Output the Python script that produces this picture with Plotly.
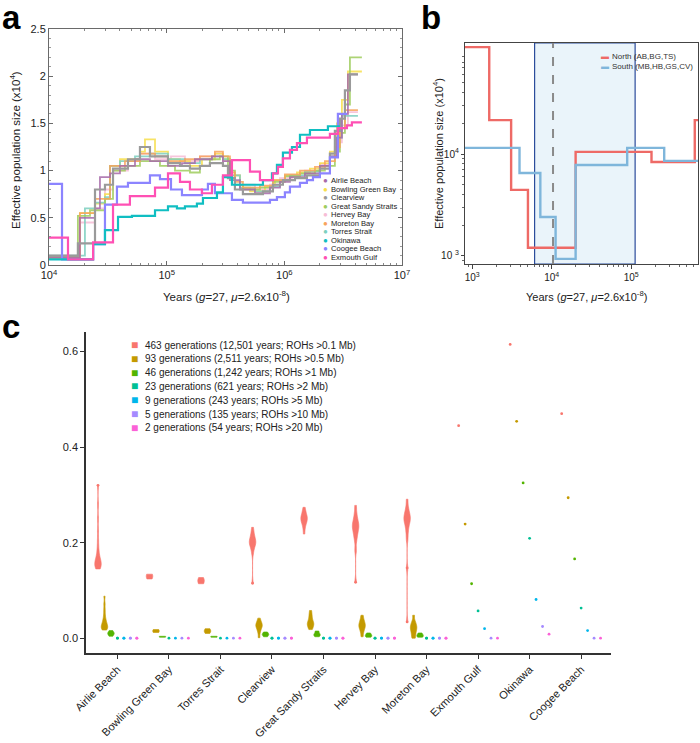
import plotly.graph_objects as go

W, H = 700, 743
FONT = "Liberation Sans, Arial, sans-serif"
INK = "#222222"


def px(x):
    return x / W


def py(y):
    return 1 - y / H


# ---------------- panel a: PSMC step curves (years, Ne in units of 1e4) ----------------
POP_NAMES = ["Airlie Beach", "Bowling Green Bay", "Clearview", "Great Sandy Straits",
             "Hervey Bay", "Moreton Bay", "Torres Strait", "Okinawa", "Coogee Beach",
             "Exmouth Gulf"]
POP_COLORS = ["#A86BAA", "#F7DF4C", "#9A9A9A", "#9FCD5E", "#F7BDD6", "#F8A45C",
              "#7DD0C0", "#10BEC2", "#8C84FF", "#FF50B4"]

AIRLIE_T = [10000, 18300, 24600, 27100, 33000, 40100, 53800, 72100, 102600, 134900, 173800,
            242500, 300800, 345000, 419600, 562600, 755000, 918000, 1116000, 1497000,
            2006000, 2439000, 2797000, 3085000, 3470000, 4222000]
AIRLIE_NE = [0.08, 0.50, 0.60, 0.93, 0.97, 1.05, 1.12, 1.10, 1.05, 1.08, 1.12, 1.15, 1.10,
             0.90, 0.80, 0.76, 0.82, 0.88, 0.93, 0.97, 1.05, 1.15, 1.35, 1.60, 2.02, 2.02]

BOWLING_T = [10000, 18300, 24600, 29900, 33000, 40100, 59300, 65400, 79600, 102600, 129800,
             157700, 199500, 257000, 300800, 345000, 419600, 510400, 684200, 832000,
             1011000, 1280000, 1651000, 2006000, 2439000, 2797000, 3085000, 3470000, 4562000]
BOWLING_NE = [0.07, 0.55, 0.65, 0.75, 1.05, 1.12, 1.20, 1.33, 1.20, 1.12, 1.10, 1.05, 1.12,
              1.18, 1.12, 0.95, 0.82, 0.78, 0.83, 0.90, 0.95, 0.98, 1.02, 1.08, 1.20, 1.50,
              1.75, 2.05, 2.05]

CLEAR_T = [10000, 17600, 24600, 29900, 35000, 46900, 59300, 72100, 102600, 129800, 157700,
           191700, 233100, 300800, 331800, 380200, 444700, 658000, 800000, 973000, 1231000,
           1556000, 2006000, 2439000, 2689000, 2967000, 3272000, 3609000, 4222000]
CLEAR_NE = [0.10, 0.23, 0.80, 0.85, 1.02, 1.12, 1.25, 1.15, 1.08, 1.05, 1.02, 1.05, 1.08,
            1.05, 0.92, 0.80, 0.75, 0.78, 0.85, 0.90, 0.92, 0.95, 1.02, 1.18, 1.42, 1.55,
            1.85, 2.02, 2.02]

GSS_T = [10000, 17600, 22300, 29900, 35000, 44200, 59300, 87700, 117700, 157700, 191700,
         233100, 283500, 331800, 380200, 444700, 620600, 800000, 1011000, 1358000, 1821000,
         2211000, 2689000, 2967000, 3272000, 3609000, 4562000]
GSS_NE = [0.09, 0.52, 0.58, 0.70, 1.00, 1.05, 1.10, 1.05, 1.00, 0.98, 1.05, 1.12, 1.15,
          1.00, 0.85, 0.80, 0.82, 0.88, 0.94, 0.97, 1.00, 1.05, 1.20, 1.40, 1.70, 2.20, 2.20]

HERVEY_T = [10000, 18300, 24600, 29900, 35000, 46900, 59300, 79600, 108800, 143000, 191700,
            257000, 300800, 358700, 419600, 562600, 755000, 918000, 1161000, 1497000,
            2006000, 2439000, 2797000, 3085000, 3470000, 4222000]
HERVEY_NE = [0.08, 0.45, 0.60, 0.80, 1.00, 1.10, 1.18, 1.12, 1.15, 1.10, 1.15, 1.18, 1.10,
             0.95, 0.85, 0.80, 0.85, 0.92, 0.95, 1.00, 1.07, 1.15, 1.30, 1.48, 1.62, 1.62]

MORETON_T = [10000, 18300, 24600, 33000, 44200, 59300, 79600, 102600, 143000, 191700,
             257000, 300800, 345000, 380200, 444700, 620600, 800000, 1011000, 1358000,
             1821000, 2211000, 2689000, 2967000, 3272000, 4222000]
MORETON_NE = [0.07, 0.55, 0.70, 1.05, 1.10, 1.18, 1.15, 1.10, 1.12, 1.15, 1.20, 1.15, 0.98,
              0.88, 0.82, 0.84, 0.90, 0.96, 1.00, 1.04, 1.10, 1.25, 1.45, 1.64, 1.64]

TORRES_T = [10000, 20200, 24600, 29900, 33000, 40100, 53800, 72100, 102600, 143000, 191700,
            242500, 300800, 345000, 419600, 562600, 755000, 918000, 1116000, 1497000,
            2006000, 2439000, 2797000, 3085000, 4222000]
TORRES_NE = [0.10, 0.60, 0.66, 0.72, 1.05, 1.10, 1.15, 1.18, 1.12, 1.08, 1.12, 1.15, 1.12,
             0.95, 0.82, 0.78, 0.83, 0.90, 0.95, 0.99, 1.05, 1.15, 1.35, 1.58, 1.58]

OKINAWA_T = [10000, 23700, 29900, 38600, 50700, 79600, 102600, 122300, 143000, 180800,
             203400, 267500, 300800, 358700, 658000, 785000, 865500, 973000, 1161000,
             1358000, 1651000, 2346000, 2967000]
OKINAWA_NE = [0.06, 0.22, 0.37, 0.51, 0.52, 0.58, 0.62, 0.60, 0.62, 0.65, 0.71, 0.77, 0.93,
              0.85, 0.90, 0.97, 1.06, 1.19, 1.25, 1.38, 1.43, 1.47, 1.47]

COOGEE_T = [10000, 12900, 23700, 29900, 37800, 46900, 72100, 87700, 108800, 134900, 199500,
            224200, 257000, 358700, 444700, 755000, 865500, 1011000, 1116000, 1358000,
            1556000, 1751000, 2006000, 2439000, 2852000, 3403000]
COOGEE_NE = [0.86, 0.06, 0.22, 0.64, 0.83, 0.87, 0.95, 0.91, 0.80, 0.74, 0.80, 0.86, 0.76,
             0.69, 0.66, 0.69, 0.72, 0.77, 0.83, 0.87, 0.90, 0.93, 0.97, 1.14, 1.60, 1.60]

EXMOUTH_T = [10000, 14500, 23700, 35000, 48700, 79600, 102600, 129800, 157700, 199500,
             242500, 300800, 358700, 510400, 620600, 800000, 883000, 973000, 1116000,
             1280000, 1556000, 2439000, 2852000, 3403000, 3752000, 4562000]
EXMOUTH_NE = [0.29, 0.06, 0.24, 0.64, 0.73, 0.82, 0.97, 0.88, 0.80, 0.76, 0.85, 0.95, 1.11,
              0.99, 0.90, 0.97, 1.04, 1.13, 1.22, 1.29, 1.35, 1.39, 1.45, 1.48, 1.51, 1.51]

POP_SERIES = {
    "Airlie Beach": (AIRLIE_T, AIRLIE_NE),
    "Bowling Green Bay": (BOWLING_T, BOWLING_NE),
    "Clearview": (CLEAR_T, CLEAR_NE),
    "Great Sandy Straits": (GSS_T, GSS_NE),
    "Hervey Bay": (HERVEY_T, HERVEY_NE),
    "Moreton Bay": (MORETON_T, MORETON_NE),
    "Torres Strait": (TORRES_T, TORRES_NE),
    "Okinawa": (OKINAWA_T, OKINAWA_NE),
    "Coogee Beach": (COOGEE_T, COOGEE_NE),
    "Exmouth Gulf": (EXMOUTH_T, EXMOUTH_NE),
}
DRAW_ORDER = ["Hervey Bay", "Bowling Green Bay", "Torres Strait", "Great Sandy Straits",
              "Moreton Bay", "Airlie Beach", "Clearview", "Coogee Beach", "Okinawa",
              "Exmouth Gulf"]

# ---------------- panel b: regional PSMC (years, Ne) ----------------
NORTH_T = [700, 1640, 3090, 5030, 20000, 180000, 630000, 900000]
NORTH_NE = [112000, 21500, 4440, 1200, 10500, 8350, 21500, 21500]
SOUTH_T = [700, 3940, 7200, 11200, 20000, 89000, 260000, 900000]
SOUTH_NE = [11500, 6520, 2410, 935, 7800, 11500, 8560, 8560]
SHADE_YEARS = [6100, 112000]
MARK_YEARS = 10400

# ---------------- panel c: inbreeding (F_ROH) per location and ROH class ----------------
LOCATIONS = ["Airlie Beach", "Bowling Green Bay", "Torres Strait", "Clearview",
             "Great Sandy Straits", "Hervey Bay", "Moreton Bay", "Exmouth Gulf",
             "Okinawa", "Coogee Beach"]
GEN_LABELS = ["463 generations (12,501 years; ROHs >0.1 Mb)",
              "93 generations (2,511 years; ROHs >0.5 Mb)",
              "46 generations (1,242 years; ROHs >1 Mb)",
              "23 generations (621 years; ROHs >2 Mb)",
              "9 generations (243 years; ROHs >5 Mb)",
              "5 generations (135 years; ROHs >10 Mb)",
              "2 generations (54 years; ROHs >20 Mb)"]
GEN_COLORS = ["#F8766D", "#C49A00", "#53B400", "#00C094", "#00B6EB", "#A58AFF", "#FB61D7"]

F_463 = [
    [0.145, 0.147, 0.15, 0.152, 0.155, 0.158, 0.16, 0.163, 0.167, 0.172, 0.18, 0.19, 0.205,
     0.225, 0.25, 0.28, 0.32],
    [0.124, 0.127, 0.129, 0.13, 0.131, 0.132, 0.134],
    [0.114, 0.117, 0.119, 0.12, 0.121, 0.123, 0.127],
    [0.115, 0.178, 0.188, 0.195, 0.198, 0.2, 0.202, 0.205, 0.21, 0.215, 0.222, 0.232],
    [0.218, 0.232, 0.24, 0.245, 0.248, 0.25, 0.252, 0.255, 0.26, 0.266, 0.274],
    [0.117, 0.184, 0.205, 0.215, 0.222, 0.228, 0.232, 0.236, 0.24, 0.245, 0.252, 0.262, 0.278],
    [0.034, 0.147, 0.207, 0.222, 0.232, 0.24, 0.245, 0.248, 0.252, 0.256, 0.26, 0.266, 0.275,
     0.291],
    [0.445], [0.615], [0.47],
]
F_93 = [
    [0.017, 0.019, 0.021, 0.023, 0.025, 0.027, 0.03, 0.033, 0.037, 0.042, 0.05, 0.06, 0.072,
     0.088],
    [0.012, 0.014, 0.016, 0.018],
    [0.01, 0.013, 0.015, 0.017, 0.02],
    [0.001, 0.012, 0.018, 0.022, 0.025, 0.027, 0.029, 0.032, 0.036, 0.042],
    [0.018, 0.022, 0.026, 0.029, 0.031, 0.034, 0.038, 0.044, 0.05, 0.058],
    [0.003, 0.012, 0.018, 0.022, 0.025, 0.028, 0.031, 0.035, 0.04, 0.048],
    [0.0, 0.004, 0.01, 0.014, 0.018, 0.021, 0.024, 0.027, 0.031, 0.036, 0.048],
    [0.239], [0.454], [0.294],
]
F_46 = [
    [0.004, 0.007, 0.009, 0.011, 0.013, 0.016],
    [0.002, 0.003, 0.004],
    [0.002, 0.003, 0.004],
    [0.003, 0.006, 0.008, 0.01, 0.013],
    [0.003, 0.006, 0.008, 0.011, 0.015],
    [0.002, 0.004, 0.006, 0.008, 0.011],
    [0.002, 0.004, 0.006, 0.008, 0.011],
    [0.114], [0.325], [0.166],
]
F_23 = [[0.0, 0.0], [0.0], [0.0], [0.0, 0.0], [0.0, 0.0], [0.0, 0.0], [0.0, 0.0],
        [0.057], [0.209], [0.063]]
F_9 = [[0.0, 0.0], [0.0], [0.0], [0.0, 0.0], [0.0, 0.0], [0.0, 0.0], [0.0, 0.0],
       [0.020], [0.081], [0.016]]
F_5 = [[0.0, 0.0], [0.0], [0.0], [0.0, 0.0], [0.0, 0.0], [0.0, 0.0], [0.0, 0.0],
       [0.0], [0.0245], [0.0]]
F_2 = [[0.0, 0.0], [0.0], [0.0], [0.0, 0.0], [0.0, 0.0], [0.0, 0.0], [0.0, 0.0],
       [0.0], [0.0084], [0.0]]
F_GROUPS = [F_463, F_93, F_46, F_23, F_9, F_5, F_2]
BANDWIDTHS = [0.008, 0.005, 0.002, 0.002, 0.002, 0.002, 0.002]

fig = go.Figure()

# panel a
for name in DRAW_ORDER:
    t, ne = POP_SERIES[name]
    col = POP_COLORS[POP_NAMES.index(name)]
    strong = name in ("Okinawa", "Coogee Beach", "Exmouth Gulf", "Clearview")
    fig.add_trace(go.Scatter(
        x=t, y=ne, mode="lines", line=dict(color=col, width=2.2 if strong else 1.8, shape="hv"),
        opacity=1.0 if strong else 0.85, showlegend=False, xaxis="x", yaxis="y",
    ))

# panel b
fig.add_trace(go.Scatter(x=NORTH_T, y=NORTH_NE, mode="lines", showlegend=False,
                         line=dict(color="#EE6A66", width=2.4, shape="hv"),
                         xaxis="x2", yaxis="y2"))
fig.add_trace(go.Scatter(x=SOUTH_T, y=SOUTH_NE, mode="lines", showlegend=False,
                         line=dict(color="#7FB6DB", width=2.4, shape="hv"),
                         xaxis="x2", yaxis="y2"))

# panel c: one violin per location and ROH class, each scaled on its own;
# where all samples are equal only the point is drawn
for k, grp in enumerate(F_GROUPS):
    col = GEN_COLORS[k]
    for loc, vals in zip(LOCATIONS, grp):
        spread = len(set(vals)) > 1
        fig.add_trace(go.Violin(
            x=[loc] * len(vals), y=vals, name=GEN_LABELS[k], showlegend=False,
            scalegroup=f"{k}-{loc}", scalemode="width",
            alignmentgroup="c", offsetgroup=str(k),
            spanmode="hard" if spread else "soft",
            bandwidth=BANDWIDTHS[k] if spread else 0.001,
            points="outliers" if spread else "all", pointpos=0, jitter=0,
            marker=dict(color=col, size=2.8),
            line=dict(color=col if spread else "rgba(0,0,0,0)", width=0.6 if spread else 0),
            fillcolor=col if spread else "rgba(0,0,0,0)",
            box_visible=False, meanline_visible=False, hoverinfo="skip",
            xaxis="x3", yaxis="y3",
        ))


def sup(e):
    return f"10<sup>{e}</sup>"


def minor_log(lo, hi):
    return [m * 10 ** e for e in range(lo, hi) for m in range(2, 10)]


axfont = dict(family=FONT, size=11, color=INK)
fig.update_layout(
    width=W, height=H, margin=dict(l=0, r=0, t=0, b=0, autoexpand=False),
    paper_bgcolor="white", plot_bgcolor="white",
    font=dict(family=FONT, color=INK),
    violinmode="group", violingap=0.12, violingroupgap=0,
    xaxis=dict(domain=[px(49), px(402)], anchor="y", type="log", range=[4, 7],
               automargin=False,
               showline=True, linecolor="#6a6a6a", linewidth=1, mirror="allticks",
               ticks="inside", ticklen=4, tickcolor="#6a6a6a",
               tickvals=[1e4, 1e5, 1e6, 1e7], ticktext=[sup(4), sup(5), sup(6), sup(7)],
               tickfont=axfont, showgrid=False, zeroline=False,
               minor=dict(tickvals=minor_log(4, 7), ticks="inside", ticklen=2,
                          tickcolor="#888", showgrid=False)),
    yaxis=dict(domain=[py(265), py(29)], anchor="x", range=[0, 2.5], dtick=0.5,
               automargin=False,
               showline=True, linecolor="#6a6a6a", linewidth=1, mirror="allticks",
               ticks="inside", ticklen=4, tickcolor="#6a6a6a", tickfont=axfont,
               showgrid=False, zeroline=False,
               minor=dict(dtick=0.1, ticks="inside", ticklen=2, tickcolor="#999",
                          showgrid=False)),
    xaxis2=dict(domain=[px(465), px(698)], anchor="y2", type="log", range=[2.91, 5.84],
                automargin=False,
                showline=True, linecolor="#444", linewidth=1.2, mirror=True,
                ticks="outside", ticklen=4, tickcolor="#444",
                tickvals=[1e3, 1e4, 1e5], ticktext=[sup(3), sup(4), sup(5)],
                tickfont=dict(family=FONT, size=10, color=INK),
                showgrid=False, zeroline=False,
                minor=dict(tickvals=minor_log(2, 6), ticks="outside", ticklen=2,
                           tickcolor="#666", showgrid=False)),
    yaxis2=dict(domain=[py(264), py(43)], anchor="x2", type="log", range=[2.92, 5.09],
                automargin=False,
                showline=True, linecolor="#444", linewidth=1.2, mirror=True,
                ticks="outside", ticklen=3, tickcolor="#444",
                tickvals=[1e3, 1e4], ticktext=["10 <sup>3</sup>", sup(4)],
                tickfont=dict(family=FONT, size=10, color=INK),
                showgrid=False, zeroline=False,
                minor=dict(tickvals=minor_log(2, 6), ticks="outside", ticklen=2,
                           tickcolor="#666", showgrid=False)),
    xaxis3=dict(domain=[px(86), px(611)], anchor="y3", type="category",
                categoryorder="array", categoryarray=LOCATIONS, range=[-0.61, 9.58],
                automargin=False,
                showline=True, linecolor="#333", linewidth=1.5,
                ticks="outside", ticklen=4, tickcolor="#333", tickangle=-45,
                tickfont=dict(family=FONT, size=11, color=INK),
                showgrid=False, zeroline=False),
    yaxis3=dict(domain=[py(653), py(332)], anchor="x3", range=[-0.031, 0.641],
                automargin=False,
                tickvals=[0, 0.2, 0.4, 0.6], tickformat=".1f",
                showline=True, linecolor="#333", linewidth=1.5,
                ticks="outside", ticklen=4, tickcolor="#333", tickfont=axfont,
                showgrid=False, zeroline=False),
)

# panel b: shaded interval and marker line
fig.add_shape(type="rect", xref="x2", yref="y2 domain", x0=SHADE_YEARS[0], x1=SHADE_YEARS[1],
              y0=0, y1=1, fillcolor="#EAF4FA", line=dict(color="#2B4C9B", width=1.2),
              layer="below")
fig.add_shape(type="line", xref="x2", yref="y2 domain", x0=MARK_YEARS, x1=MARK_YEARS,
              y0=0, y1=1, line=dict(color="#8a8a8a", width=2, dash="dash"))

ann = []


def text(x, y, s, size, color=INK, xanchor="center", **kw):
    d = dict(x=px(x), y=py(y), xref="paper", yref="paper", text=s, showarrow=False,
             xanchor=xanchor, yanchor="middle", borderpad=0,
             font=dict(family=FONT, size=size, color=color))
    d.update(kw)
    ann.append(d)


# panel letters
text(11, 17, "<b>a</b>", 33, color="black")
text(431, 17, "<b>b</b>", 33, color="black")
text(11, 326, "<b>c</b>", 33, color="black")

# axis titles
ytitle = "Effective population size (x10<sup>4</sup>)"
xtitle = "Years (<i>g</i>=27, <i>μ</i>=2.6x10<sup>-8</sup>)"
text(15, 150, ytitle, 11.5, textangle=-90)
text(226, 296, xtitle, 11.5)
text(438, 153, ytitle, 11, textangle=-90)
text(586, 296, xtitle, 11)

# panel a legend
for i, name in enumerate(POP_NAMES):
    yy = 181 + 8.48 * i
    text(325.7, yy, "●", 8, color=POP_COLORS[i])
    text(330, yy, name, 7.6, xanchor="left")

# panel b legend
for i, (lab, col) in enumerate([("North (AB,BG,TS)", "#EE6A66"),
                                ("South (MB,HB,GS,CV)", "#7FB6DB")]):
    yy = 56 + 11 * i
    text(605, yy, "▬", 8, color=col)
    text(611, yy, lab, 8, xanchor="left", color="#333")

# panel c legend
for i, (lab, col) in enumerate(zip(GEN_LABELS, GEN_COLORS)):
    yy = 345 + 13.8 * i
    text(134.5, yy, "■", 12, color=col)
    text(144, yy, lab, 10, xanchor="left")

fig.update_layout(annotations=ann)
# drop the default page margin so the 700x743 figure fills the window exactly
fig.write_html("out.html", config={"displayModeBar": False},
               post_script="document.body.style.margin='0';")
